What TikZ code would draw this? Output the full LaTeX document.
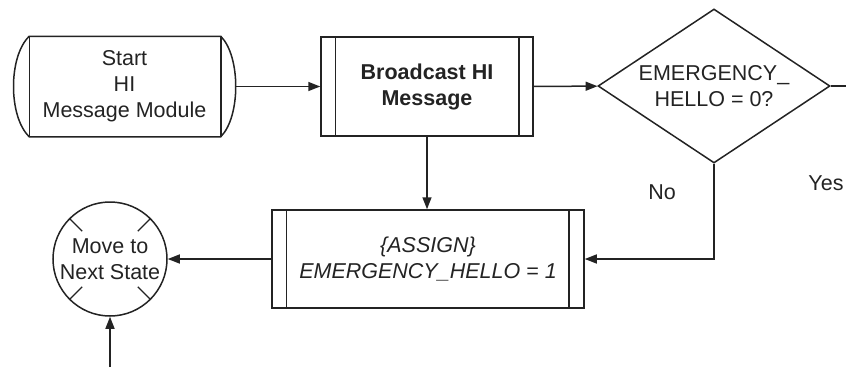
\documentclass[tikz,border=0pt]{standalone}
\usepackage{fontspec}
\setmainfont{Liberation Sans}
\usetikzlibrary{arrows.meta,shapes.geometric,calc}
\definecolor{ink}{RGB}{35,35,35}
\begin{document}
\begin{tikzpicture}[x=1pt,y=-1pt,
  line width=1.5pt, color=ink,
  lbl/.style={font=\fontsize{21.5}{26}\selectfont, align=center, inner sep=0pt, text=ink},
  box/.style={lbl, rectangle, draw, minimum width=#1, minimum height=99pt},
  flow/.style={-{Triangle[length=12pt,width=9pt]}},
]
\useasboundingbox (0,0) rectangle (846,367);

% terminator: start of the module
\node[lbl, rectangle, minimum width=221pt, minimum height=99pt] (start) at (124.5,86.5)
  {Start\\HI\\Message Module};
\draw ([xshift=16pt]start.north west) -- ([xshift=-15pt]start.north east)
  .. controls +(20,20) and +(20,-20) .. ([xshift=-15pt]start.south east)
  -- ([xshift=16pt]start.south west)
  .. controls +(-21,-20) and +(-21,20) .. cycle;
\draw ([xshift=16pt]start.north west) -- ([xshift=16pt]start.south west);
\draw ([xshift=-15pt]start.north east) -- ([xshift=-15pt]start.south east);

% predefined process: broadcast
\node[box=212pt, font=\fontsize{21.5}{26}\selectfont\bfseries] (bc) at (427,86.5)
  {Broadcast HI\\Message};
\draw ([xshift=15pt]bc.north west) -- ([xshift=15pt]bc.south west);
\draw ([xshift=-15pt]bc.north east) -- ([xshift=-15pt]bc.south east);

% decision
\node[lbl, diamond, draw, aspect=1.5, minimum width=232pt, minimum height=154pt] (dia)
  at (714,86) {EMERGENCY\_\\HELLO = 0?};

% predefined process: assignment
\node[box=312pt, minimum height=98pt, font=\fontsize{21.5}{26}\selectfont\itshape] (as)
  at (428,259) {\{ASSIGN\}\\EMERGENCY\_HELLO = 1};
\draw ([xshift=15pt]as.north west) -- ([xshift=15pt]as.south west);
\draw ([xshift=-16pt]as.north east) -- ([xshift=-16pt]as.south east);

% connector to next state
\node[lbl, circle, draw, minimum size=114pt] (mv) at (110,259) {Move to\\Next State};
\foreach \a in {45,135,225,315}
  \draw[line width=1.1pt] ($(mv.center)!0.68!(mv.\a)$) -- (mv.\a);

% branch labels
\node[lbl] (no) at (662,192) {No};
\node[lbl] (yes) at (826,183) {Yes};

% connectors
\coordinate (offR) at (846,86);
\coordinate (inB) at (110,367);
\draw[flow] (start) -- (bc);
\draw[flow] (bc) -- (dia);
\draw (dia.east) -- (offR);
\draw[flow] (dia.south) |- (as.east);
\draw[flow] (bc.south) -- (bc.south |- as.north);
\draw[flow] (as.west) -- (mv.east);
\draw[flow] (inB) -- (mv.south);
\end{tikzpicture}
\end{document}
